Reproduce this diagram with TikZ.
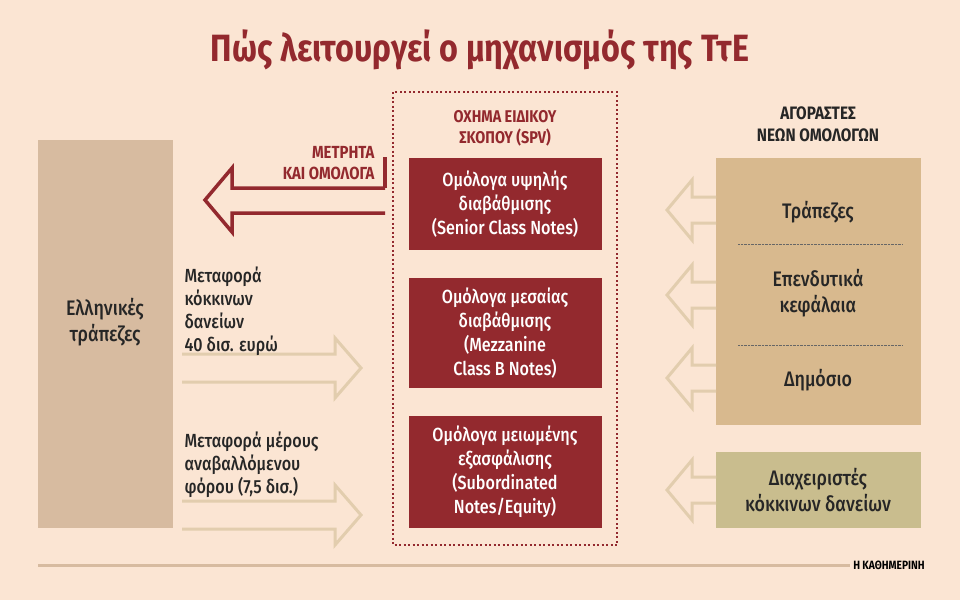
\documentclass[tikz,border=0pt]{standalone}
\usepackage{fontspec}
\setmainfont{Fira Sans}
\newfontfamily\cond{Fira Sans}[FakeStretch=0.85]
\newfontfamily\med{Fira Sans Medium}[FakeStretch=0.85]
\begin{document}
\begin{tikzpicture}[x=1pt,y=-1pt,
  font=\cond,
  redbox/.style={fill=sred,text=white,minimum width=193pt,align=center,font=\med\fontsize{19}{24}\selectfont},
  lbl/.style={align=left,anchor=north west,font=\med\fontsize{19}{23}\selectfont,text=black!85},
  rlbl/.style={align=center,font=\med\fontsize{21}{26}\selectfont,text=black!85},
  larr/.style={draw=arrc,line width=3pt,line join=miter},
  redarr/.style={draw=sred,line width=3.5pt,line join=miter}]
\definecolor{bg}{HTML}{FBE5D3}
\definecolor{sred}{HTML}{93292E}
\definecolor{lbox}{HTML}{D7BBA0}
\definecolor{rbox}{HTML}{D8B98E}
\definecolor{gbox}{HTML}{C9BD8E}
\definecolor{arrc}{HTML}{E2CDAE}
\fill[bg] (0,0) rectangle (960,600);
\useasboundingbox (0,0) rectangle (960,600);
\node[font=\cond\bfseries\fontsize{38}{44}\selectfont,text=sred] (title) at (480,50) {Πώς λειτουργεί ο μηχανισμός της ΤτΕ};
% left box
\fill[lbox] (38,140) rectangle (173,528);
\node[font=\med\fontsize{21}{26}\selectfont,align=center,text=black!85] (banks) at (105,322) {Ελληνικές\\τράπεζες};
% SPV
\draw[sred,line width=2pt,dash pattern=on 2pt off 2.5pt] (393,92) rectangle (617,545);
\node[font=\cond\bfseries\fontsize{17}{21}\selectfont,align=center,text=sred] (spv) at (505,128) {ΟΧΗΜΑ ΕΙΔΙΚΟΥ\\ΣΚΟΠΟΥ (SPV)};
\node[redbox,minimum height=92pt] (r1) at (505,204) {Ομόλογα υψηλής\\διαβάθμισης\\(Senior Class Notes)};
\node[redbox,minimum height=110pt] (r2) at (505,333) {Ομόλογα μεσαίας\\διαβάθμισης\\(Mezzanine\\Class B Notes)};
\node[redbox,minimum height=112pt] (r3) at (505,472) {Ομόλογα μειωμένης\\εξασφάλισης\\(Subordinated\\Notes/Equity)};
% right
\node[font=\cond\bfseries\fontsize{18}{22}\selectfont,align=center,text=black!85] (buy) at (818,124) {ΑΓΟΡΑΣΤΕΣ\\ΝΕΩΝ ΟΜΟΛΟΓΩΝ};
\fill[rbox] (716,158) rectangle (921,425);
\draw[black!60,densely dotted] (738,244) -- (902,244) (738,345) -- (902,345);
\node[rlbl] (t1) at (818,212) {Τράπεζες};
\node[rlbl] (t2) at (818,293) {Επενδυτικά\\κεφάλαια};
\node[rlbl] (t3) at (818,380) {Δημόσιο};
\fill[gbox] (716,452) rectangle (921,528);
\node[rlbl] (t4) at (818,490) {Διαχειριστές\\κόκκινων δανείων};
% red arrow
\draw[redarr] (385,188) -- (232,188) -- (232,168) -- (205,200) -- (232,232) -- (232,213) -- (385,213);
\draw[redarr] (385,188) -- (385,157);
\node[anchor=south east,align=right,font=\cond\bfseries\fontsize{17.5}{21}\selectfont,text=sred] (cash) at (378,183) {ΜΕΤΡΗΤΑ\\ΚΑΙ ΟΜΟΛΟΓΑ};
% light left arrows on right
\foreach \cy in {210,295,378,490}{
 \draw[larr] (716,\cy-13) -- (692,\cy-13) -- (692,\cy-30) -- (667,\cy) -- (692,\cy+30) -- (692,\cy+13) -- (716,\cy+13);
}
% right arrows
\foreach \cy in {368,515}{
 \draw[larr] (182,\cy-14) -- (335,\cy-14) -- (335,\cy-30) -- (361,\cy) -- (335,\cy+30) -- (335,\cy+14) -- (182,\cy+14);
}
\node[lbl] (m1) at (181,263) {Μεταφορά\\κόκκινων\\δανείων\\40 δισ. ευρώ};
\node[lbl] (m2) at (181,428) {Μεταφορά μέρους\\αναβαλλόμενου\\φόρου (7,5 δισ.)};
% footer
\draw[lbox,line width=3pt] (38,565) -- (850,565);
\node[font=\cond\bfseries\fontsize{12}{14}\selectfont,text=black] (logo) at (889,565) {Η ΚΑΘΗΜΕΡΙΝΗ};
\end{tikzpicture}
\end{document}
